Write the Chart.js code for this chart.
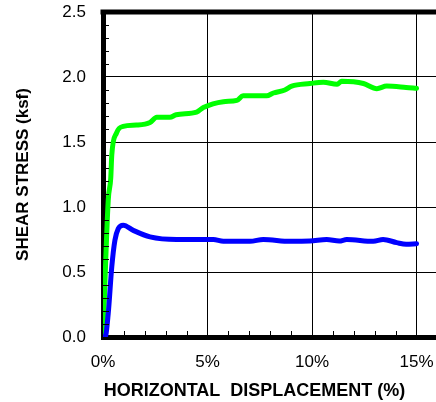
<!DOCTYPE html>
<html>
<head>
<meta charset="utf-8">
<script src="https://cdn.jsdelivr.net/npm/chart.js@4"></script>
<style>
  html, body { margin: 0; padding: 0; background: #fff; }
  #wrap { width: 436px; height: 402px; }
</style>
</head>
<body>
<div id="wrap"><canvas id="chart1"></canvas></div>
<script>
// values
var greenX = [0, 0.25, 0.37, 0.42, 0.65, 0.97, 1.6, 2.25, 2.57, 3.2, 3.5, 4.48, 4.8, 5.76, 6.4, 6.7, 7.5, 7.83, 8.15, 8.7, 9.03, 9.9, 10.54, 11.2, 11.42, 12.46, 13.1, 13.57, 14.5, 15];
var greenY = [0, 1.05, 1.22, 1.4, 1.57, 1.62, 1.63, 1.65, 1.69, 1.69, 1.71, 1.73, 1.765, 1.81, 1.82, 1.855, 1.855, 1.855, 1.877, 1.9, 1.93, 1.95, 1.96, 1.944, 1.967, 1.95, 1.91, 1.93, 1.92, 1.913];
var blueX = [0, 0.1, 0.25, 0.42, 0.57, 0.73, 0.97, 1.45, 2.25, 3.52, 5.28, 5.76, 7.03, 7.67, 8.95, 9.9, 10.7, 11.3, 11.66, 12.93, 13.4, 14.05, 14.5, 15];
var blueY = [0, 0, 0.18, 0.54, 0.744, 0.834, 0.86, 0.82, 0.77, 0.75, 0.75, 0.736, 0.736, 0.75, 0.736, 0.738, 0.75, 0.738, 0.75, 0.736, 0.75, 0.726, 0.713, 0.718];
var xTicks = [0, 5, 10, 15];
var yTicks = [0, 0.5, 1.0, 1.5, 2.0, 2.5];

function pts(xs, ys) {
  return xs.map(function(x, i) { return { x: x, y: ys[i] }; });
}

var fontFam = 'Arial, "Liberation Sans", sans-serif';

// top border + small inward ticks on the axes
var frame = {
  id: 'frame',
  afterDraw: function(chart) {
    var c = chart.ctx, a = chart.chartArea;
    var xs = chart.scales.x, ys = chart.scales.y;
    c.save();
    c.strokeStyle = '#000';
    c.lineWidth = 1;
    c.beginPath();
    for (var i = 1; i <= 15; i++) {
      if (i % 5 === 0) continue;
      var px = Math.round(xs.getPixelForValue(i)) + 0.5;
      c.moveTo(px, a.bottom);
      c.lineTo(px, a.bottom - 6);
    }
    for (var j = 1; j < 25; j++) {
      if (j % 5 === 0) continue;
      var py = Math.round(ys.getPixelForValue(j / 10)) + 0.5;
      c.moveTo(a.left, py);
      c.lineTo(a.left + 6, py);
    }
    c.stroke();
    c.lineWidth = 5;
    c.beginPath();
    c.moveTo(a.left - 2.5, a.top);
    c.lineTo(a.right, a.top);
    c.stroke();
    c.restore();
  }
};

var ctx = document.getElementById('chart1').getContext('2d');
var myChart = new Chart(ctx, {
  type: 'scatter',
  data: {
    datasets: [{
      data: pts(blueX, blueY),
      showLine: true,
      borderColor: '#0000ff',
      borderWidth: 5,
      pointRadius: 0,
      cubicInterpolationMode: 'monotone',
      borderCapStyle: 'round',
      borderJoinStyle: 'round'
    }, {
      data: pts(greenX, greenY),
      showLine: true,
      borderColor: '#00ff00',
      borderWidth: 5,
      pointRadius: 0,
      cubicInterpolationMode: 'monotone',
      borderCapStyle: 'round',
      borderJoinStyle: 'round'
    }]
  },
  options: {
    responsive: true,
    maintainAspectRatio: false,
    animation: false,
    layout: { padding: { top: 12, right: 0, left: 0, bottom: 0 } },
    plugins: {
      legend: { display: false },
      tooltip: { enabled: false }
    },
    scales: {
      x: {
        type: 'linear',
        min: 0,
        max: 15.93,
        afterBuildTicks: function(s) { s.ticks = xTicks.map(function(v) { return { value: v }; }); },
        afterFit: function(s) { s.height = 65; s.paddingLeft = 0; s.paddingRight = 0; },
        grid: { color: '#000', lineWidth: 1, drawTicks: false },
        border: { color: '#000', width: 5 },
        ticks: {
          padding: 15,
          color: '#000',
          font: { family: fontFam, size: 17 },
          callback: function(v) { return v + '%'; }
        },
        title: {
          display: true,
          // trailing spaces nudge the centred title left, as in the original
          text: 'HORIZONTAL  DISPLACEMENT (%)      ',
          color: '#000',
          font: { family: fontFam, size: 18, weight: 'bold' },
          padding: { top: 6, bottom: 0 }
        }
      },
      y: {
        min: 0,
        max: 2.5,
        afterBuildTicks: function(s) { s.ticks = yTicks.map(function(v) { return { value: v }; }); },
        afterFit: function(s) { s.width = 103; s.paddingTop = 0; s.paddingBottom = 0; },
        grid: { color: '#000', lineWidth: 1, drawTicks: false },
        border: { color: '#000', width: 5 },
        ticks: {
          padding: 17,
          color: '#000',
          font: { family: fontFam, size: 17 },
          callback: function(v) { return v.toFixed(1); }
        },
        title: {
          display: true,
          text: 'SHEAR STRESS (ksf)',
          color: '#000',
          font: { family: fontFam, size: 17, weight: 'bold' },
          padding: { top: 13, bottom: 4 }
        }
      }
    }
  },
  plugins: [frame]
});
</script>
</body>
</html>
